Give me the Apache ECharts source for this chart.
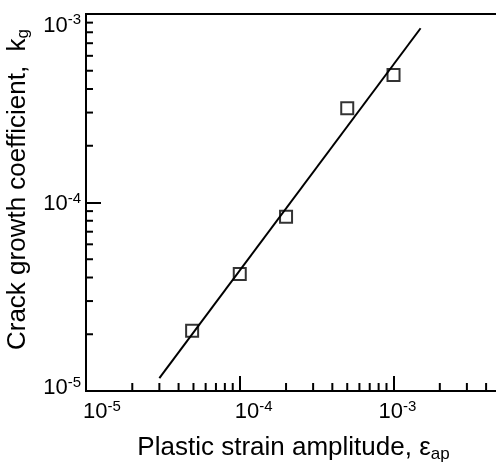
<!DOCTYPE html>
<html>
<head>
<meta charset="utf-8">
<style>
  html, body { margin: 0; padding: 0; background: #fff; }
  #chart { width: 496px; height: 465px; }
</style>
<script src="https://cdn.jsdelivr.net/npm/echarts@6/dist/echarts.min.js"></script>
</head>
<body>
<div id="chart"></div>
<script>
// measured points (open squares)
const strainAmp = [4.9e-5, 1e-4, 2e-4, 5e-4, 1e-3]
const growthCoef = [2.09e-5, 4.18e-5, 8.4e-5, 3.16e-4, 4.75e-4]
// fitted line, end points
const fitStrain = [3e-5, 1.5e-3]
const fitCoef = [1.17e-5, 8.4e-4]

// axis ranges
const xMin = 1e-5, xMax = 5e-3
const yMin = 1e-5, yMax = 1e-3

// minor log ticks (2..9 in every decade)
const minorMults = [2, 3, 4, 5, 6, 7, 8, 9]
const xDecades = [1e-5, 1e-4, 1e-3]
const yDecades = [1e-5, 1e-4]
const xMinorTicks = [], yMinorTicks = []
xDecades.forEach(d => minorMults.forEach(m => { if (d * m < xMax) xMinorTicks.push(d * m) }))
yDecades.forEach(d => minorMults.forEach(m => yMinorTicks.push(d * m)))

const FONT = '"Liberation Sans", Arial, Helvetica, sans-serif'
const chart = echarts.init(document.getElementById('chart'), null, { renderer: 'canvas' })

function expOf(v) {
  const e = Math.log10(v)
  return Math.abs(e - Math.round(e)) < 1e-6 ? Math.round(e) : null
}

// draws short inward tick marks at given values
function minorTickSeries(axis, values, len) {
  return {
    type: 'custom',
    silent: true,
    clip: false,
    z: 5,
    data: values.map(v => axis === 'x' ? [v, yMin] : [xMin, v]),
    renderItem(params, api) {
      const p = api.coord([api.value(0), api.value(1)])
      const shape = axis === 'x'
        ? { x1: p[0], y1: p[1], x2: p[0], y2: p[1] - len }
        : { x1: p[0], y1: p[1], x2: p[0] + len, y2: p[1] }
      return { type: 'line', shape, style: { stroke: '#000', lineWidth: 2 } }
    }
  }
}

// "10" + superscript exponent, with small per-label nudges like the original figure
// dx: shift right, dy: shift down (px)
function powerRich(prefix, nudges) {
  const rich = {}
  const Q = 11  // raises the exponent
  Object.keys(nudges).forEach(k => {
    const { dx, dy } = nudges[k]
    const P = dy > 0 ? 2 * dy : 0
    const B = dy < 0 ? -2 * dy : 0
    rich['b' + prefix + k] = {
      fontSize: 22, lineHeight: 26, fontFamily: FONT, color: '#000',
      padding: [P, 0, B, 2 * dx]
    }
    rich['s' + prefix + k] = {
      fontSize: 15, lineHeight: 15, fontFamily: FONT, color: '#000',
      padding: [P, 0, B + Q, 0]
    }
  })
  return rich
}
function powerLabel(prefix) {
  return v => {
    const e = expOf(v)
    if (e === null) return ''
    const k = -e
    return '{b' + prefix + k + '|10}{s' + prefix + k + '|' + e + '}'
  }
}

const option = {
  animation: false,
  backgroundColor: '#fff',
  grid: {
    left: 86,
    right: -5,
    top: 14,
    bottom: 74,
    show: true,
    borderColor: '#000',
    borderWidth: 2,
    outerBoundsMode: 'none'
  },
  xAxis: {
    type: 'log',
    logBase: 10,
    min: xMin,
    max: xMax,
    name: '{t|Plastic strain amplitude, ε}{sub|ap}',
    nameLocation: 'middle',
    nameGap: 42,
    nameTextStyle: {
      rich: {
        t: { fontSize: 26, lineHeight: 30, color: '#000', fontFamily: FONT },
        sub: { fontSize: 17, lineHeight: 17, padding: [12, 0, 0, 0], color: '#000', fontFamily: FONT }
      }
    },
    axisLine: { lineStyle: { color: '#000', width: 2 } },
    axisTick: { inside: true, length: 15, lineStyle: { color: '#000', width: 2 } },
    splitLine: { show: false },
    axisLabel: {
      margin: 8,
      fontSize: 22,
      fontFamily: FONT,
      color: '#000',
      formatter: powerLabel('x'),
      rich: powerRich('x', {
        5: { dx: 16, dy: 0 },
        4: { dx: 14, dy: 0 },
        3: { dx: 4, dy: 0 }
      })
    }
  },
  yAxis: {
    type: 'log',
    logBase: 10,
    min: yMin,
    max: yMax,
    name: '{t|Crack growth coefficient,  k}{sub|g}',
    nameLocation: 'middle',
    nameGap: 29,
    nameTextStyle: {
      padding: [0, 0, 0, 26],
      rich: {
        t: { fontSize: 26, lineHeight: 30, color: '#000', fontFamily: FONT },
        sub: { fontSize: 17, lineHeight: 17, padding: [12, 0, 0, 0], color: '#000', fontFamily: FONT }
      }
    },
    axisLine: { lineStyle: { color: '#000', width: 2 } },
    axisTick: { inside: true, length: 15, lineStyle: { color: '#000', width: 2 } },
    splitLine: { show: false },
    axisLabel: {
      margin: 5,
      fontSize: 22,
      fontFamily: FONT,
      color: '#000',
      formatter: powerLabel('y'),
      rich: powerRich('y', {
        5: { dx: 0, dy: -3 },
        4: { dx: 0, dy: 1.5 },
        3: { dx: 0, dy: 11.5 }
      })
    }
  },
  series: [
    {
      name: 'fit',
      type: 'line',
      data: fitStrain.map((x, i) => [x, fitCoef[i]]),
      showSymbol: false,
      lineStyle: { color: '#000', width: 2 },
      silent: true,
      z: 3
    },
    {
      name: 'data',
      type: 'scatter',
      data: strainAmp.map((x, i) => [x, growthCoef[i]]),
      symbol: 'rect',
      symbolSize: 12,
      itemStyle: { color: 'rgba(255,255,255,0)', borderColor: '#000', borderWidth: 2 },
      z: 4
    },
    minorTickSeries('x', xMinorTicks, 8),
    minorTickSeries('y', yMinorTicks, 7)
  ]
}

chart.setOption(option)
</script>
</body>
</html>
